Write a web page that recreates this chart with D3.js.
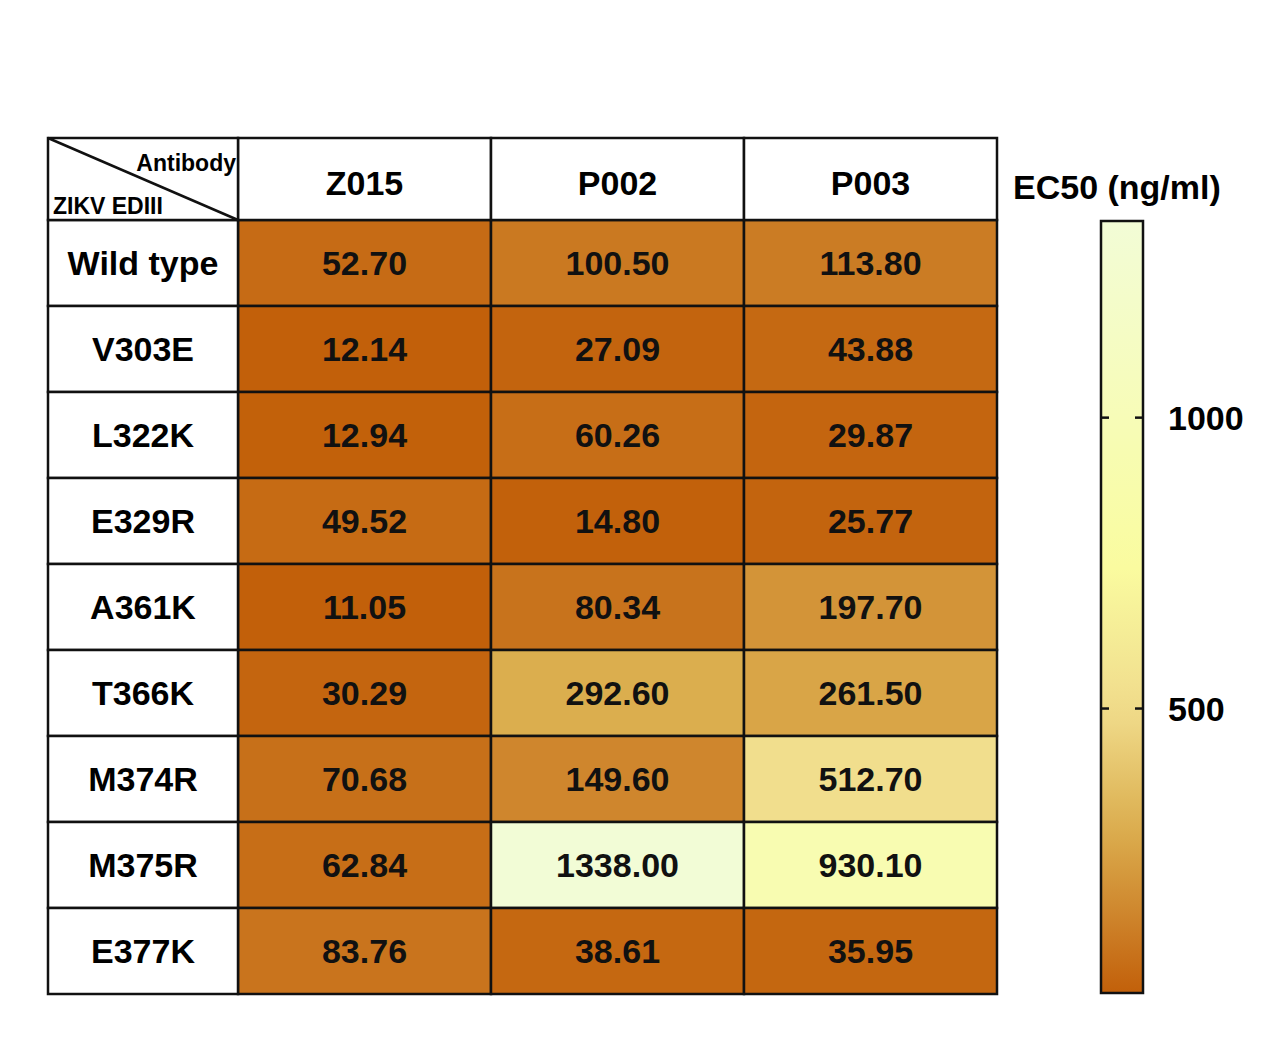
<!DOCTYPE html><html><head><meta charset="utf-8">
<script src="https://cdn.jsdelivr.net/npm/d3@7"></script>
<style>body{margin:0;background:#fff}</style></head><body>
<svg id="c" width="1282" height="1042"></svg>
<script>
const rows=["Wild type","V303E","L322K","E329R","A361K","T366K","M374R","M375R","E377K"];
const cols=["Z015","P002","P003"];
const z015=[52.70,12.14,12.94,49.52,11.05,30.29,70.68,62.84,83.76];
const p002=[100.50,27.09,60.26,14.80,80.34,292.60,149.60,1338.00,38.61];
const p003=[113.80,43.88,29.87,25.77,197.70,261.50,512.70,930.10,35.95];
const ticks=[500,1000];
const series=[z015,p002,p003];
const svg=d3.select("#c");
const F="Liberation Sans, Arial, sans-serif";
const color=d3.scaleLinear().domain([11.05,120,300,500,750,1338])
 .range(["#c2600a","#cc7e26","#dcb050","#f0dc8c","#fafca0","#f2fcd6"]).clamp(true);
const x=d3.scaleBand().domain(cols).range([238,997]);
const y=d3.scaleBand().domain(rows).range([220,994]);
const g=svg.append("g");
series.forEach((s,ci)=>s.forEach((v,ri)=>{
  g.append("rect").attr("x",x(cols[ci])).attr("y",y(rows[ri])).attr("width",x.bandwidth()).attr("height",y.bandwidth())
   .attr("fill",color(v)).attr("stroke","#111").attr("stroke-width",2.5);
  g.append("text").attr("x",x(cols[ci])+x.bandwidth()/2).attr("y",y(rows[ri])+y.bandwidth()/2+12)
   .attr("text-anchor","middle").attr("font-family",F).attr("font-weight","bold").attr("font-size",34).attr("fill","#111").text(v.toFixed(2));
}));
rows.forEach(r=>{
  g.append("rect").attr("x",48).attr("y",y(r)).attr("width",190).attr("height",y.bandwidth()).attr("fill","#fff").attr("stroke","#111").attr("stroke-width",2.5);
  g.append("text").attr("x",143).attr("y",y(r)+y.bandwidth()/2+12).attr("text-anchor","middle").attr("font-family",F).attr("font-weight","bold").attr("font-size",34).text(r);
});
cols.forEach(c=>{
  g.append("rect").attr("x",x(c)).attr("y",138).attr("width",x.bandwidth()).attr("height",82).attr("fill","#fff").attr("stroke","#111").attr("stroke-width",2.5);
  g.append("text").attr("x",x(c)+x.bandwidth()/2).attr("y",195).attr("text-anchor","middle").attr("font-family",F).attr("font-weight","bold").attr("font-size",34).text(c);
});
g.append("rect").attr("x",48).attr("y",138).attr("width",190).attr("height",82).attr("fill","#fff").attr("stroke","#111").attr("stroke-width",2.5);
g.append("line").attr("x1",48).attr("y1",138).attr("x2",238).attr("y2",220).attr("stroke","#111").attr("stroke-width",2.5);
g.append("text").attr("x",236).attr("y",171).attr("text-anchor","end").attr("font-family",F).attr("font-weight","bold").attr("font-size",23).text("Antibody");
g.append("text").attr("x",53).attr("y",214).attr("font-family",F).attr("font-weight","bold").attr("font-size",23).text("ZIKV EDIII");
// colorbar
const cy=d3.scaleLinear().domain([11.05,1338]).range([993,221]);
const defs=svg.append("defs");
const lg=defs.append("linearGradient").attr("id","gr").attr("x1",0).attr("y1",1).attr("x2",0).attr("y2",0);
d3.range(0,1.0001,0.05).forEach(t=>{const v=11.05+t*(1338-11.05);lg.append("stop").attr("offset",t).attr("stop-color",color(v));});
svg.append("rect").attr("x",1101).attr("y",221).attr("width",42).attr("height",772).attr("fill","url(#gr)").attr("stroke","#111").attr("stroke-width",2.5);
ticks.forEach(t=>{
  svg.append("line").attr("x1",1101).attr("x2",1109).attr("y1",cy(t)).attr("y2",cy(t)).attr("stroke","#111").attr("stroke-width",2.5);
  svg.append("line").attr("x1",1135).attr("x2",1143).attr("y1",cy(t)).attr("y2",cy(t)).attr("stroke","#111").attr("stroke-width",2.5);
  svg.append("text").attr("x",1168).attr("y",cy(t)+12).attr("font-family",F).attr("font-weight","bold").attr("font-size",34).text(t);
});
svg.append("text").attr("x",1013).attr("y",199).attr("font-family",F).attr("font-weight","bold").attr("font-size",34).text("EC50 (ng/ml)");
</script></body></html>
